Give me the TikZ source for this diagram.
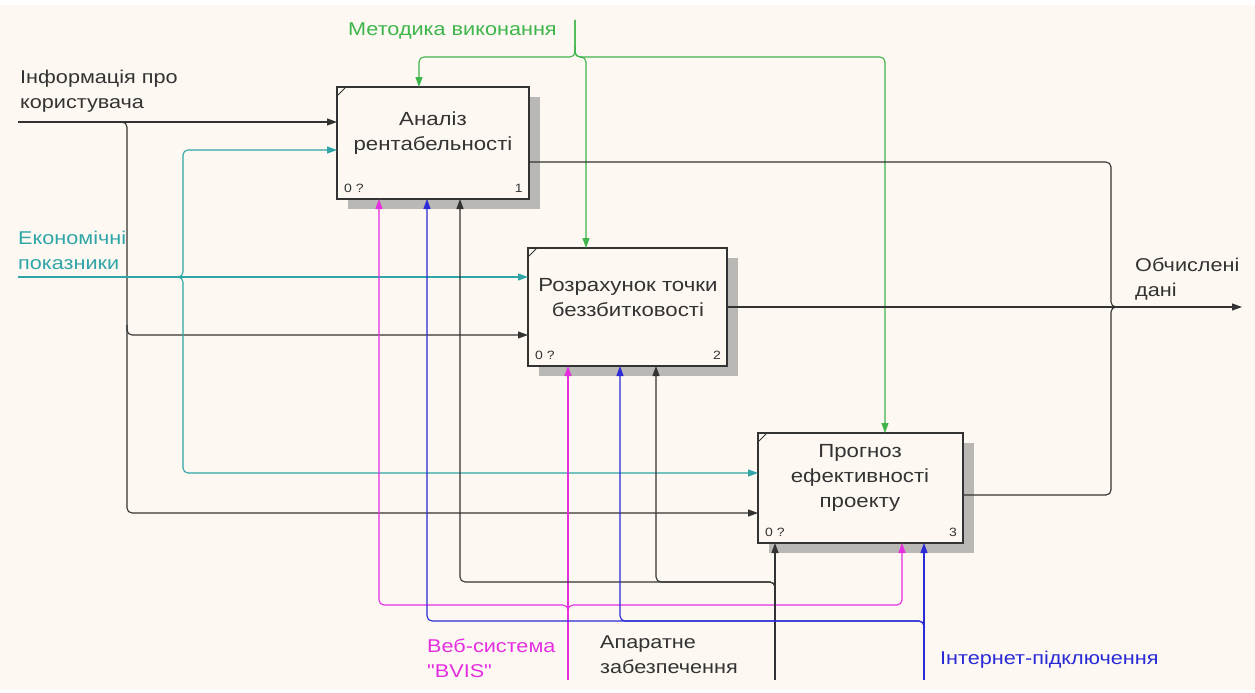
\documentclass[tikz,border=0pt]{standalone}
\usepackage{fontspec}
\setmainfont{Liberation Sans}[FakeStretch=1.17]
\newfontfamily\plainquotes{Liberation Sans}[FakeStretch=1.17]
\usetikzlibrary{arrows.meta,shadows}
\definecolor{paper}{HTML}{FDF9F2}
\definecolor{ink}{HTML}{333333}
\definecolor{grn}{HTML}{3DB54A}
\definecolor{tea}{HTML}{2FA5A8}
\definecolor{mag}{HTML}{E52EE0}
\definecolor{blu}{HTML}{2A2AD6}
\definecolor{shade}{HTML}{BAB8B4}
\begin{document}
\begin{tikzpicture}[x=1pt,y=-1pt,
  func/.style={draw=ink, line width=2.4pt, fill=paper, inner sep=0pt, outer sep=0pt,
    anchor=north west,
    drop shadow={shadow xshift=11pt, shadow yshift=-10pt, fill=shade, opacity=1}},
  boxtext/.style={font=\fontsize{19}{25}\selectfont, align=center, text=ink, inner sep=0pt},
  num/.style={font=\fontsize{12}{14}\selectfont, text=ink, inner sep=0pt},
  lbl/.style={font=\fontsize{18.5}{25}\selectfont, align=left, inner sep=0pt, anchor=north west},
  conn/.style={line width=1.1pt, rounded corners=5pt},
  arr/.style={-{Triangle[length=10pt,width=7pt]}},
]
% page and drawing area
\useasboundingbox (0,0) rectangle (1255,693);
\fill[white] (0,0) rectangle (1255,693);
\fill[paper] (0,5) rectangle (1255,690);

% activity boxes
\node[func, minimum width=192pt, minimum height=112pt] (A1) at (337,87) {};
\node[func, minimum width=199pt, minimum height=118pt] (A2) at (528,248) {};
\node[func, minimum width=205pt, minimum height=110pt] (A3) at (758,433) {};

\foreach \b in {A1,A2,A3}{
  \draw[ink, line width=1pt] ([yshift=-9pt]\b.north west) -- ([xshift=9pt]\b.north west);
}

\node[boxtext] (A1t) at (433,133) {Аналіз\\рентабельності};
\node[boxtext] (A2t) at (628,298) {Розрахунок точки\\беззбитковості};
\node[boxtext] (A3t) at (860,478) {Прогноз\\ефективності\\проекту};

\node[num, anchor=base west] (A1a) at ([shift={(7,-7)}]A1.south west) {0 ?};
\node[num, anchor=base east] (A1b) at ([shift={(-6,-7)}]A1.south east) {1};
\node[num, anchor=base west] (A2a) at ([shift={(7,-7)}]A2.south west) {0 ?};
\node[num, anchor=base east] (A2b) at ([shift={(-6,-7)}]A2.south east) {2};
\node[num, anchor=base west] (A3a) at ([shift={(7,-7)}]A3.south west) {0 ?};
\node[num, anchor=base east] (A3b) at ([shift={(-6,-7)}]A3.south east) {3};

% boundary labels
\node[lbl, text=grn] (Lmet) at (348,23) {Методика виконання};
\node[lbl, text=ink] (Linf) at (20,70) {Інформація про\\користувача};
\node[lbl, text=tea] (Leco) at (18,231) {Економічні\\показники};
\node[lbl, text=ink] (Lout) at (1135,258) {Обчислені\\дані};
\node[lbl, text=mag] (Lweb) at (427,639) {Веб-система\\{\plainquotes "BVIS"}};
\node[lbl, text=ink] (Lhw) at (600,636) {Апаратне\\забезпечення};
\node[lbl, text=blu] (Lnet) at (940,651) {Інтернет-підключення};

% free ends of boundary arrows
\coordinate (gsrc) at (575,20);
\coordinate (isrc) at (18,122);
\coordinate (esrc) at (18,277);
\coordinate (osnk) at (1242,307);
\coordinate (msrc) at (568,680);
\coordinate (hsrc) at (775,680);
\coordinate (bsrc) at (924,680);

% controls
\draw[conn,grn,arr] (gsrc) -- (575,57) -| ([xshift=82pt]A1.north west);
\draw[conn,grn,arr] (gsrc) -- (575,57) -| ([xshift=127pt]A3.north west);
\draw[conn,grn,arr] (575,47) -- (575,57) -| ([xshift=58pt]A2.north west);

% inputs
\draw[conn,ink,arr] (isrc) -- ([yshift=-35pt]A1.north west);
\draw[conn,ink,arr] (119,122) -- (127,122) |- ([yshift=-80pt]A3.north west);
\draw[conn,ink,arr] (127,325) |- ([yshift=-87pt]A2.north west);

\draw[conn,tea,arr] (esrc) -- ([yshift=-29pt]A2.north west);
\draw[conn,tea,arr] (175,277) -- (183,277) |- ([yshift=-63pt]A1.north west);
\draw[conn,tea,arr] (175,277) -- (183,277) |- ([yshift=-40pt]A3.north west);

% outputs
\draw[conn,ink,arr] ([yshift=-59pt]A2.north east) -- (osnk);
\draw[conn,ink] ([yshift=-75pt]A1.north east) -| (1111,307) -- (1125,307);
\draw[conn,ink] ([yshift=-62pt]A3.north east) -| (1111,307) -- (1125,307);

% mechanisms
\draw[conn,mag,arr] (msrc) -- ([xshift=40pt]A2.south west);
\draw[conn,mag,arr] (568,615) -- (568,605) -| ([xshift=42pt]A1.south west);
\draw[conn,mag,arr] (568,615) -- (568,605) -| ([xshift=144pt]A3.south west);

\draw[conn,ink,arr] (hsrc) -- ([xshift=17pt]A3.south west);
\draw[conn,ink,arr] (775,590) -- (775,582) -| ([xshift=123pt]A1.south west);
\draw[conn,ink,arr] (775,590) -- (775,582) -| ([xshift=128pt]A2.south west);

\draw[conn,blu,arr] (bsrc) -- ([xshift=166pt]A3.south west);
\draw[conn,blu,arr] (924,630) -- (924,621) -| ([xshift=90pt]A1.south west);
\draw[conn,blu,arr] (924,630) -- (924,621) -| ([xshift=92pt]A2.south west);
\end{tikzpicture}
\end{document}
